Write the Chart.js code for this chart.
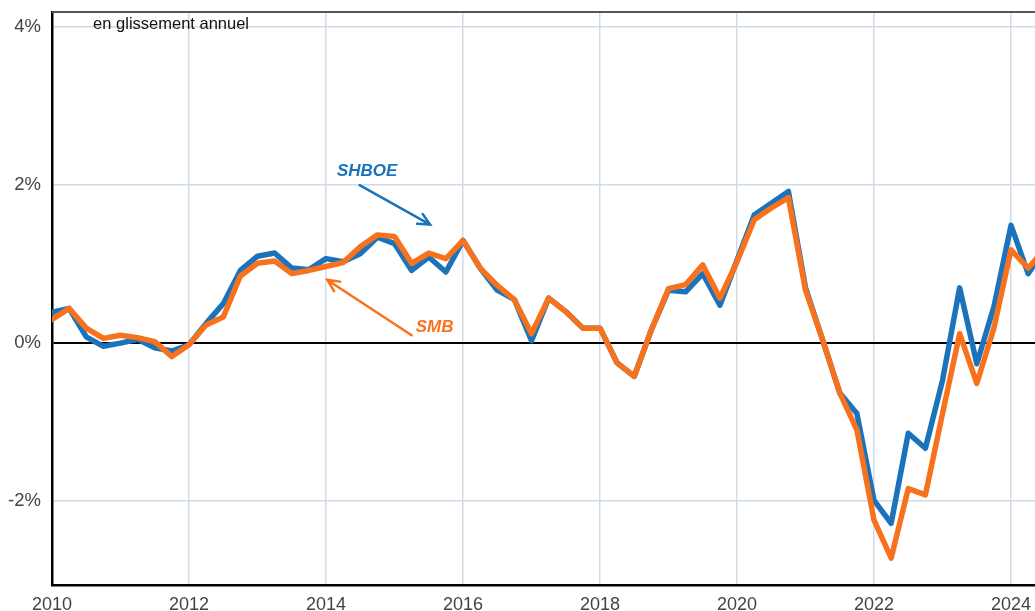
<!DOCTYPE html>
<html>
<head>
<meta charset="utf-8">
<script src="https://cdn.jsdelivr.net/npm/chart.js@4/dist/chart.umd.min.js"></script>
<style>
  html, body { margin: 0; padding: 0; background: #fff; }
  #wrap { width: 1035px; height: 611px; }
</style>
</head>
<body>
<div id="wrap"><canvas id="chart"></canvas></div>
<script>
// quarterly, year-on-year change in %, from 2010 Q1
const startYear = 2010;
const shboe = [0.39, 0.44, 0.08, -0.04, 0.0, 0.05, -0.06, -0.1,
  -0.02, 0.25, 0.5, 0.92, 1.1, 1.14, 0.95, 0.93,
  1.07, 1.03, 1.13, 1.34, 1.26, 0.92, 1.09, 0.9,
  1.3, 0.95, 0.67, 0.55, 0.03, 0.57, 0.4, 0.19,
  0.19, -0.25, -0.42, 0.17, 0.67, 0.65, 0.88, 0.48,
  1.05, 1.62, 1.77, 1.92, 0.7, 0.04, -0.63, -0.89,
  -1.99, -2.28, -1.14, -1.33, -0.47, 0.7, -0.26, 0.46,
  1.49, 0.88, 1.2];
const smb = [0.3, 0.44, 0.19, 0.06, 0.1, 0.07, 0.02, -0.17,
  -0.02, 0.23, 0.33, 0.85, 1.01, 1.04, 0.88, 0.92,
  0.97, 1.02, 1.22, 1.37, 1.35, 1.01, 1.14, 1.07,
  1.3, 0.95, 0.73, 0.55, 0.12, 0.57, 0.4, 0.19,
  0.19, -0.25, -0.42, 0.17, 0.69, 0.74, 0.99, 0.57,
  1.03, 1.56, 1.71, 1.84, 0.67, 0.04, -0.63, -1.1,
  -2.24, -2.72, -1.84, -1.92, -0.89, 0.12, -0.51, 0.19,
  1.18, 0.95, 1.2];
const xTicks = [2010, 2012, 2014, 2016, 2018, 2020, 2022, 2024];
const yTicks = [-2, 0, 2, 4];

const blue = '#1b74bb';
const orange = '#f8721e';
const fontFam = '"Liberation Sans", Arial, sans-serif';
const toPoints = arr => arr.map((v, i) => ({ x: startYear + i / 4, y: v }));

const notes = {
  id: 'notes',
  afterDatasetsDraw(chart) {
    const { ctx, chartArea: a, scales: { x, y } } = chart;
    ctx.save();
    // top frame line
    ctx.strokeStyle = '#555';
    ctx.lineWidth = 2;
    ctx.beginPath();
    ctx.moveTo(a.left, a.top);
    ctx.lineTo(a.right, a.top);
    ctx.stroke();

    ctx.fillStyle = '#111';
    ctx.font = '16.5px ' + fontFam;
    ctx.textBaseline = 'middle';
    ctx.fillText('en glissement annuel', x.getPixelForValue(2010.6), y.getPixelForValue(4.03));

    function arrow(x0, y0, x1, y1, color) {
      const px0 = x.getPixelForValue(x0), py0 = y.getPixelForValue(y0);
      const px1 = x.getPixelForValue(x1), py1 = y.getPixelForValue(y1);
      ctx.strokeStyle = color;
      ctx.lineWidth = 2.5;
      ctx.lineCap = 'round';
      ctx.beginPath();
      ctx.moveTo(px0, py0);
      ctx.lineTo(px1, py1);
      const ang = Math.atan2(py1 - py0, px1 - px0);
      const h = 13;
      ctx.moveTo(px1 - h * Math.cos(ang - 0.45), py1 - h * Math.sin(ang - 0.45));
      ctx.lineTo(px1, py1);
      ctx.lineTo(px1 - h * Math.cos(ang + 0.45), py1 - h * Math.sin(ang + 0.45));
      ctx.stroke();
    }

    ctx.font = 'italic bold 17px ' + fontFam;
    ctx.fillStyle = blue;
    ctx.fillText('SHBOE', x.getPixelForValue(2014.16), y.getPixelForValue(2.18));
    arrow(2014.49, 2.0, 2015.52, 1.50, blue);

    ctx.fillStyle = orange;
    ctx.fillText('SMB', x.getPixelForValue(2015.31), y.getPixelForValue(0.2));
    arrow(2015.25, 0.1, 2014.02, 0.8, orange);
    ctx.restore();
  }
};

new Chart(document.getElementById('chart'), {
  type: 'line',
  data: {
    datasets: [
      { label: 'SMB', data: toPoints(smb), borderColor: orange, borderWidth: 5.5,
        pointRadius: 0, borderJoinStyle: 'round', borderCapStyle: 'round', tension: 0 },
      { label: 'SHBOE', data: toPoints(shboe), borderColor: blue, borderWidth: 5.5,
        pointRadius: 0, borderJoinStyle: 'round', borderCapStyle: 'round', tension: 0 }
    ]
  },
  options: {
    responsive: true,
    maintainAspectRatio: false,
    animation: false,
    layout: { padding: { top: 12, right: 0, left: 0, bottom: 0 } },
    plugins: { legend: { display: false }, tooltip: { enabled: false } },
    scales: {
      x: {
        type: 'linear',
        min: 2010,
        max: 2024.35,
        afterBuildTicks: s => { s.ticks = xTicks.map(v => ({ value: v })); },
        afterFit: s => { s.height = 26; s.paddingLeft = 0; s.paddingRight = 0; },
        grid: { color: '#d0dbe7', lineWidth: 1.5, drawTicks: false },
        border: { color: '#000', width: 2.5 },
        ticks: { color: '#444', padding: 9, font: { size: 18, family: fontFam },
          callback: v => String(v) }
      },
      y: {
        min: -3.06,
        max: 4.19,
        afterBuildTicks: s => { s.ticks = yTicks.map(v => ({ value: v })); },
        afterFit: s => { s.width = 52; s.paddingTop = 0; s.paddingBottom = 0; },
        grid: {
          color: c => c.tick && c.tick.value === 0 ? '#000' : '#d0dbe7',
          lineWidth: c => c.tick && c.tick.value === 0 ? 2 : 1.5,
          drawTicks: false
        },
        border: { color: '#000', width: 2.5 },
        ticks: { color: '#444', padding: 11, font: { size: 18.5, family: fontFam },
          callback: v => v + '%' }
      }
    }
  },
  plugins: [notes]
});
</script>
</body>
</html>
